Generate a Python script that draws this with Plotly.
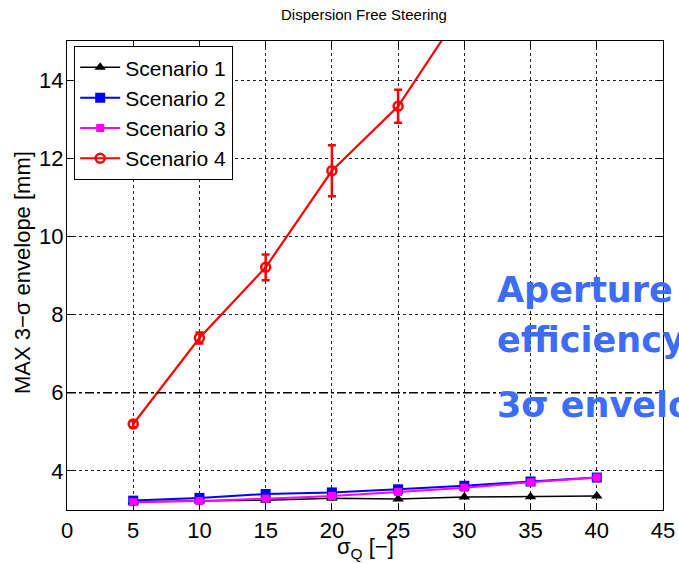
import plotly.graph_objects as go

sigma_q = [5, 10, 15, 20, 25, 30, 35, 40]
scenario1 = [3.21, 3.23, 3.25, 3.30, 3.28, 3.33, 3.34, 3.36]
scenario2 = [3.24, 3.31, 3.41, 3.45, 3.53, 3.62, 3.73, 3.83]
scenario3 = [3.20, 3.23, 3.29, 3.36, 3.46, 3.57, 3.71, 3.83]
scenario4 = [5.20, 7.40, 9.21, 11.68, 13.33, 15.85, 18.40, 21.00]
scenario4_err = [0.08, 0.14, 0.33, 0.65, 0.42, 0.50, 0.50, 0.50]
names = ["Scenario 1", "Scenario 2", "Scenario 3", "Scenario 4"]
x_ticks = [0, 5, 10, 15, 20, 25, 30, 35, 40, 45]
y_ticks = [4, 6, 8, 10, 12, 14]

W, H = 679, 564
L, R, T, B = 67, 663, 41, 510
PW, PH = R - L, B - T

def px_x(px):
    return (px - L) / PW

def px_y(py):
    return 1 - (py - T) / PH

fig = go.Figure()
fig.add_trace(go.Scatter(x=sigma_q, y=scenario1, name=names[0], mode="lines+markers",
                         line=dict(color="black", width=1.5),
                         marker=dict(symbol="triangle-up", size=10, color="black")))
fig.add_trace(go.Scatter(x=sigma_q, y=scenario2, name=names[1], mode="lines+markers",
                         line=dict(color="blue", width=2),
                         marker=dict(symbol="square", size=10, color="blue")))
fig.add_trace(go.Scatter(x=sigma_q, y=scenario3, name=names[2], mode="lines+markers",
                         line=dict(color="magenta", width=2),
                         marker=dict(symbol="square", size=8, color="magenta")))
fig.add_trace(go.Scatter(x=sigma_q, y=scenario4, name=names[3], mode="lines+markers",
                         line=dict(color="red", width=2.2),
                         marker=dict(symbol="circle-open", size=9, color="red", line=dict(width=2.5)),
                         error_y=dict(type="data", array=scenario4_err, color="red",
                                      thickness=2.5, width=4)))

# dash-dot reference line at 6 mm
fig.add_shape(type="line", xref="paper", x0=0, x1=1, yref="y", y0=6, y1=6,
              line=dict(color="black", width=1.5, dash="dashdot"))

ann_font = dict(family="DejaVu Sans", size=35, color="#3d6cf5")
for txt, py in [("<b>Aperture</b>", 290), ("<b>efficiency</b>", 340), ("<b>3σ envelope</b>", 405)]:
    fig.add_annotation(text=txt, xref="paper", yref="paper",
                       x=px_x(495), y=px_y(py), xanchor="left", yanchor="middle",
                       showarrow=False, font=ann_font)

label_font = dict(family="Liberation Sans", size=22, color="black")
# axis titles
fig.add_annotation(text="σ<sub>Q</sub> [−]", xref="paper", yref="paper",
                   x=px_x(365), y=px_y(548), xanchor="center", yanchor="middle",
                   showarrow=False, font=label_font)
fig.add_annotation(text="MAX 3−σ envelope [mm]", xref="paper", yref="paper",
                   x=px_x(22), y=px_y(273), xanchor="center", yanchor="middle",
                   textangle=-90, showarrow=False, font=label_font)

axis_common = dict(showline=True, linecolor="black", linewidth=1.2, mirror="ticks",
                   ticks="inside", ticklen=6, tickcolor="black",
                   showgrid=True, gridcolor="#222222", gridwidth=1.2, griddash="dot",
                   zeroline=False, automargin=False,
                   tickfont=dict(family="Liberation Sans", size=22, color="black"))

fig.update_xaxes(range=[0, 45], tickvals=x_ticks, ticklabelstandoff=0, **axis_common)
fig.update_yaxes(range=[3, 15], tickvals=y_ticks, ticklabelstandoff=-2, **axis_common)

fig.update_layout(
    width=W, height=H,
    margin=dict(l=L, r=W - R, t=T, b=H - B, autoexpand=False),
    paper_bgcolor="white", plot_bgcolor="white",
    title=dict(text="Dispersion Free Steering", x=364 / W, xanchor="center",
               y=1 - 15 / H, yanchor="middle", yref="container",
               font=dict(family="Liberation Sans", size=15, color="black")),
    legend=dict(x=px_x(74), y=px_y(46), xanchor="left", yanchor="top",
                bgcolor="white", bordercolor="black", borderwidth=1.2,
                font=dict(family="Liberation Sans", size=21, color="black"),
                tracegroupgap=0, itemwidth=40),
    showlegend=True,
)

fig.write_html("out.html", config={"displayModeBar": False},
               post_script="document.body.style.margin='0';document.body.style.overflow='hidden';")
